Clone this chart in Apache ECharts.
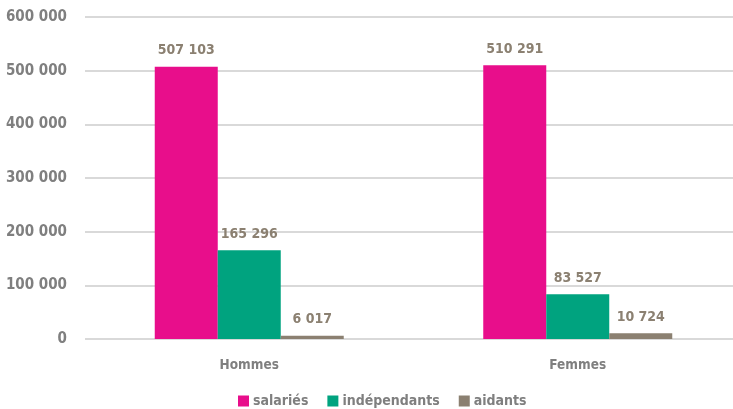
<!DOCTYPE html>
<html><head><meta charset="utf-8">
<script src="https://cdn.jsdelivr.net/npm/echarts@6/dist/echarts.min.js"></script>
<style>html,body{margin:0;padding:0;background:#fff;overflow:hidden;width:733px;height:409px}#c{width:742px;height:409px}</style>
</head><body><div id="c"></div>
<script>
const categories = ['Hommes', 'Femmes'];
const seriesNames = ['salariés', 'indépendants', 'aidants'];
const salaries = [507103, 510291];
const independants = [165296, 83527];
const aidants = [6017, 10724];
const yTicks = [0, 100000, 200000, 300000, 400000, 500000, 600000];

const FONT = '"Liberation Sans Narrow", "DejaVu Sans Condensed", sans-serif';
const fmt = v => String(v).replace(/\B(?=(\d{3})+(?!\d))/g, ' ');
const colors = ['#E80E8B', '#00A37F', '#8B8071'];
const values = [salaries, independants, aidants];

const chart = echarts.init(document.getElementById('c'));
chart.setOption({
  animation: false,
  color: colors,
  grid: {left: 85, top: 17, right: 0, bottom: 70, containLabel: false},
  legend: {
    bottom: -4, left: 233, itemWidth: 11, itemHeight: 11, itemGap: 19,
    icon: 'rect',
    textStyle: {fontFamily: FONT, fontWeight: 'bold', fontSize: 14, color: '#7F7F7F', padding: [0,0,0,-1]},
    data: seriesNames
  },
  xAxis: {
    type: 'category', data: categories,
    axisLine: {show: false}, axisTick: {show: false},
    axisLabel: {margin: 19, fontFamily: FONT, fontWeight: 'bold', fontSize: 13.5, color: '#7F7F7F'}
  },
  yAxis: {
    type: 'value', min: yTicks[0], max: yTicks[yTicks.length-1], interval: 100000,
    axisLine: {show: false}, axisTick: {show: false},
    splitLine: {lineStyle: {color: '#D9D9D9', width: 2}},
    axisLabel: {margin: 18, fontFamily: FONT, fontWeight: 'bold', fontSize: 15, color: '#7F7F7F', formatter: fmt}
  },
  series: seriesNames.map((n, i) => ({
    name: n, type: 'bar', data: values[i], barWidth: 63, barGap: '0%',
    label: {show: true, position: 'top', distance: 9, fontFamily: FONT, fontWeight: 'bold', fontSize: 14, color: '#8B8071', formatter: p => fmt(p.value)}
  }))
});
</script></body></html>
